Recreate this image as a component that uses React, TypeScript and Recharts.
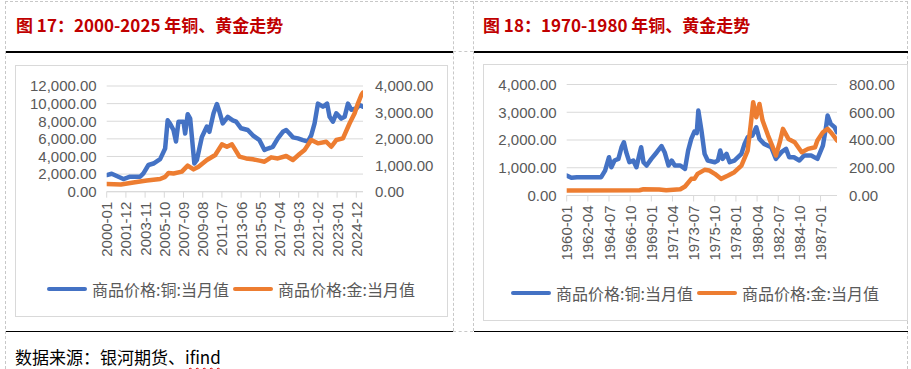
import React from 'react';
import { LineChart, Line, XAxis, YAxis, CartesianGrid, Legend } from 'recharts';

const FONT = '"Noto Sans CJK SC", "Noto Sans", sans-serif';
const NUM_FONT = '"Liberation Sans", Arial, sans-serif';
const TICK_COLOR = '#595959';
const GRID = '#D9D9D9';
const BLUE = '#4472C4';
const ORANGE = '#ED7D31';

// ---- Figure 17: 2000-2025 ----
const f17Title = '图 17：2000-2025 年铜、黄金走势';
const f17XTicks = ['2000-01', '2001-12', '2003-11', '2005-10', '2007-09', '2009-08', '2011-07', '2013-06', '2015-05', '2017-04', '2019-03', '2021-02', '2023-01', '2024-12'];
const f17LeftTicks = [0, 2000, 4000, 6000, 8000, 10000, 12000];
const f17RightTicks = [0, 1000, 2000, 3000, 4000];
const f17CopperDates = ['2000-01', '2000-07', '2001-09', '2002-05', '2003-05', '2003-09', '2004-03', '2004-09', '2005-05', '2005-11', '2006-02', '2006-05', '2006-09', '2006-12', '2007-03', '2007-09', '2007-11', '2008-02', '2008-05', '2008-10', '2009-01', '2009-07', '2010-01', '2010-04', '2010-09', '2011-01', '2011-04', '2011-08', '2012-02', '2012-08', '2012-12', '2013-06', '2014-02', '2014-08', '2015-04', '2015-10', '2016-02', '2016-08', '2017-02', '2017-08', '2017-12', '2018-04', '2018-08', '2019-02', '2019-08', '2020-02', '2020-06', '2020-10', '2021-02', '2021-08', '2022-01', '2022-04', '2022-08', '2022-12', '2023-06', '2023-10', '2024-02', '2024-06', '2024-12', '2025-04', '2025-08'];
const f17CopperValues = [1890, 2040, 1440, 1700, 1700, 2080, 3030, 3200, 3700, 4900, 8100, 7700, 7000, 5700, 7950, 7950, 6600, 8800, 8300, 3200, 3600, 6200, 7400, 6800, 8900, 9950, 9100, 7750, 8500, 8100, 7950, 7200, 7000, 6400, 5850, 4730, 4900, 5100, 6050, 6800, 7000, 6600, 6170, 6050, 5850, 5700, 6400, 7750, 10000, 9650, 10000, 8500, 7950, 8900, 8300, 8500, 10000, 9300, 9450, 9850, 9650];
const f17GoldDates = ['2000-01', '2001-06', '2002-09', '2004-01', '2005-05', '2005-11', '2006-03', '2006-09', '2007-07', '2008-02', '2008-09', '2009-03', '2010-01', '2010-11', '2011-07', '2012-01', '2012-07', '2012-10', '2013-04', '2013-12', '2014-08', '2015-04', '2015-10', '2016-06', '2017-02', '2017-12', '2018-08', '2019-04', '2019-10', '2020-06', '2021-02', '2021-12', '2022-06', '2022-12', '2023-08', '2024-04', '2024-10', '2025-02', '2025-06', '2025-08'];
const f17GoldValues = [290, 275, 350, 420, 480, 560, 710, 690, 760, 985, 845, 945, 1200, 1390, 1790, 1700, 1790, 1640, 1325, 1260, 1225, 1175, 1135, 1300, 1260, 1350, 1200, 1425, 1580, 1955, 1830, 1890, 1700, 1955, 2020, 2590, 2970, 3345, 3660, 3750];

// ---- Figure 18: 1960-1988 ----
const f18Title = '图 18：1970-1980 年铜、黄金走势';
const f18XTicks = ['1960-01', '1962-04', '1964-07', '1966-10', '1969-01', '1971-04', '1973-07', '1975-10', '1978-01', '1980-04', '1982-07', '1984-10', '1987-01'];
const f18LeftTicks = [0, 1000, 2000, 3000, 4000];
const f18RightTicks = [0, 200, 400, 600, 800];
const f18CopperDates = ['1960-01', '1960-07', '1961-02', '1963-09', '1964-02', '1964-07', '1964-10', '1965-02', '1965-07', '1965-11', '1966-02', '1966-05', '1966-09', '1967-02', '1967-06', '1967-10', '1967-12', '1968-03', '1968-07', '1969-01', '1969-08', '1970-02', '1970-06', '1970-11', '1971-03', '1971-07', '1972-02', '1972-08', '1972-12', '1973-04', '1973-08', '1973-11', '1974-01', '1974-05', '1974-09', '1975-01', '1975-10', '1976-02', '1976-05', '1976-08', '1977-01', '1977-05', '1977-11', '1978-08', '1978-12', '1979-04', '1979-10', '1980-03', '1980-07', '1981-01', '1981-10', '1982-04', '1982-11', '1983-05', '1983-09', '1984-03', '1984-10', '1985-04', '1986-01', '1986-09', '1987-04', '1987-08', '1987-10', '1988-02', '1988-07', '1988-10'];
const f18CopperValues = [720, 640, 660, 660, 900, 1380, 1020, 1260, 1320, 1740, 1920, 1560, 1200, 1260, 1020, 1500, 1740, 1200, 1080, 1320, 1560, 1780, 1560, 1080, 1260, 1080, 1080, 960, 1620, 2040, 2300, 2250, 3060, 2340, 1500, 1260, 1200, 1260, 1620, 1320, 1500, 1200, 1260, 1500, 1860, 2100, 2160, 2460, 2040, 1860, 1740, 1320, 1560, 1680, 1380, 1380, 1260, 1440, 1440, 1320, 1800, 2460, 2880, 2580, 2460, 2280];
const f18GoldDates = ['1960-01', '1967-10', '1968-03', '1969-11', '1970-08', '1972-02', '1972-08', '1973-04', '1973-08', '1973-12', '1974-09', '1975-03', '1975-10', '1976-06', '1977-03', '1977-11', '1978-08', '1979-04', '1979-08', '1979-11', '1980-03', '1980-07', '1980-11', '1981-06', '1981-12', '1982-04', '1982-09', '1983-01', '1983-08', '1984-04', '1985-01', '1985-09', '1986-06', '1986-09', '1987-04', '1987-10', '1988-02', '1988-07', '1988-10'];
const f18GoldValues = [36, 38, 45, 44, 38, 45, 65, 120, 120, 156, 185, 180, 156, 120, 144, 168, 216, 324, 516, 672, 564, 660, 540, 432, 348, 288, 384, 480, 408, 384, 312, 336, 348, 396, 456, 480, 456, 420, 396];

const seriesNames = ['商品价格:铜:当月值', '商品价格:金:当月值'];
const seriesColors = [BLUE, ORANGE];
const sourceText = '数据来源：银河期货、';

const monthIndex = (d: string, base: number) => {
  const [y, m] = d.split('-').map(Number);
  return (y - base) * 12 + (m - 1);
};
const toSeries = (dates: string[], values: number[], base: number) =>
  dates.map((d, i) => ({ m: monthIndex(d, base), v: values[i] }));

const fmt = (v: number) => v.toLocaleString('en-US', { minimumFractionDigits: 2, maximumFractionDigits: 2 });

const VTick = (props: any) => {
  const { x, y, payload, labelMap } = props;
  const label = labelMap[payload.value] ?? '';
  return (
    <text
      x={x}
      y={y}
      transform={`rotate(-90 ${x} ${y})`}
      textAnchor="end"
      dominantBaseline="central"
      fill={TICK_COLOR}
      fontSize={15}
      fontFamily={NUM_FONT}
    >
      {label}
    </text>
  );
};

const LegendContent = () => (
  <div style={{ display: 'flex', justifyContent: 'center', alignItems: 'center', fontFamily: FONT, fontSize: 16, color: TICK_COLOR, lineHeight: '22px' }}>
    {seriesNames.map((n, i) => (
      <div key={n} style={{ display: 'flex', alignItems: 'center', marginRight: i === 0 ? 4 : 0 }}>
        <span style={{ display: 'inline-block', width: 40, height: 4.5, borderRadius: 2.5, background: seriesColors[i], marginRight: 5 }} />
        <span style={{ whiteSpace: 'nowrap' }}>{n}</span>
      </div>
    ))}
  </div>
);

type ChartProps = {
  width: number;
  height: number;
  top: number;
  leftW: number;
  rightW: number;
  xH: number;
  base: number;
  maxM: number;
  xTicks: string[];
  leftTicks: number[];
  rightTicks: number[];
  copper: { m: number; v: number }[];
  gold: { m: number; v: number }[];
  legendTop: number;
};

const DualChart = (p: ChartProps) => {
  const tickIdx = p.xTicks.map((t) => monthIndex(t, p.base));
  const labelMap: Record<number, string> = {};
  p.xTicks.forEach((t, i) => (labelMap[tickIdx[i]] = t));
  const yTick = { fill: TICK_COLOR, fontSize: 15, fontFamily: NUM_FONT };
  return (
    <LineChart width={p.width} height={p.height} margin={{ top: p.top, right: 0, left: 0, bottom: 0 }}>
      <CartesianGrid yAxisId="left" vertical={false} stroke={GRID} strokeWidth={1} />
      <XAxis
        type="number"
        dataKey="m"
        domain={[0, p.maxM]}
        ticks={tickIdx}
        interval={0}
        height={p.xH}
        stroke={GRID}
        tickSize={6}
        tickMargin={4}
        tick={<VTick labelMap={labelMap} />}
        allowDataOverflow
      />
      <YAxis yAxisId="left" orientation="left" width={p.leftW} domain={[p.leftTicks[0], p.leftTicks[p.leftTicks.length - 1]]} ticks={p.leftTicks} interval={0} axisLine={false} tickLine={false} tickSize={0} tickMargin={10} tick={yTick} tickFormatter={fmt} />
      <YAxis yAxisId="right" orientation="right" width={p.rightW} domain={[p.rightTicks[0], p.rightTicks[p.rightTicks.length - 1]]} ticks={p.rightTicks} interval={0} axisLine={false} tickLine={false} tickSize={0} tickMargin={12} tick={yTick} tickFormatter={fmt} />
      <Line yAxisId="left" data={p.copper} dataKey="v" name={seriesNames[0]} type="linear" stroke={BLUE} strokeWidth={4.5} dot={false} strokeLinejoin="round" strokeLinecap="round" isAnimationActive={false} />
      <Line yAxisId="right" data={p.gold} dataKey="v" name={seriesNames[1]} type="linear" stroke={ORANGE} strokeWidth={4.5} dot={false} strokeLinejoin="round" strokeLinecap="round" isAnimationActive={false} />
      <Legend layout="horizontal" verticalAlign="middle" align="center" wrapperStyle={{ top: p.legendTop, left: 0, width: p.width }} content={<LegendContent />} />
    </LineChart>
  );
};

const abs = (s: React.CSSProperties): React.CSSProperties => ({ position: 'absolute', ...s });

export default function App() {
  const dash = '1px dashed #C8C8C8';
  const titleStyle: React.CSSProperties = { fontFamily: FONT, fontWeight: 700, fontSize: 17, color: '#C00000', lineHeight: '20px', whiteSpace: 'nowrap' };
  return (
    <div style={abs({ left: 0, top: 0, width: 911, height: 369, background: '#fff', overflow: 'hidden' })}>
      {/* table cell borders */}
      <div style={abs({ left: 5, top: 1, width: 903, height: 0, borderTop: dash })} />
      <div style={abs({ left: 5, top: 1, width: 0, height: 368, borderLeft: dash })} />
      <div style={abs({ left: 453, top: 1, width: 0, height: 330, borderLeft: dash })} />
      <div style={abs({ left: 473, top: 1, width: 0, height: 330, borderLeft: dash })} />
      <div style={abs({ left: 907, top: 1, width: 0, height: 368, borderLeft: dash })} />
      <div style={abs({ left: 453, top: 51, width: 20, height: 0, borderTop: dash })} />
      <div style={abs({ left: 453, top: 331, width: 20, height: 0, borderTop: dash })} />
      {/* black rules */}
      <div style={abs({ left: 6, top: 51, width: 447, height: 1.5, background: '#000' })} />
      <div style={abs({ left: 474, top: 51, width: 434, height: 1.5, background: '#000' })} />
      <div style={abs({ left: 6, top: 330.5, width: 447, height: 1.5, background: '#000' })} />
      <div style={abs({ left: 474, top: 330.5, width: 434, height: 1.5, background: '#000' })} />

      {/* titles */}
      <div style={abs({ left: 16, top: 15, ...titleStyle })}>{f17Title}</div>
      <div style={abs({ left: 483, top: 15, ...titleStyle })}>{f18Title}</div>

      {/* chart boxes */}
      <div style={abs({ left: 15, top: 65, width: 431, height: 250, border: '1px solid #D9D9D9' })} />
      <div style={abs({ left: 483, top: 64, width: 423, height: 255, border: '1px solid #D9D9D9' })} />

      <div style={abs({ left: 15, top: 65 })}>
        <DualChart
          width={432}
          height={251}
          top={21}
          leftW={91.7}
          rightW={84}
          xH={124.3}
          base={2000}
          maxM={307}
          xTicks={f17XTicks}
          leftTicks={f17LeftTicks}
          rightTicks={f17RightTicks}
          copper={toSeries(f17CopperDates, f17CopperValues, 2000)}
          gold={toSeries(f17GoldDates, f17GoldValues, 2000)}
          legendTop={213}
        />
      </div>
      <div style={abs({ left: 483, top: 64.5 })}>
        <DualChart
          width={424}
          height={256}
          top={19.5}
          leftW={83.7}
          rightW={70}
          xH={125.5}
          base={1960}
          maxM={345}
          xTicks={f18XTicks}
          leftTicks={f18LeftTicks}
          rightTicks={f18RightTicks}
          copper={toSeries(f18CopperDates, f18CopperValues, 1960)}
          gold={toSeries(f18GoldDates, f18GoldValues, 1960)}
          legendTop={217.5}
        />
      </div>

      {/* source */}
      <div style={abs({ left: 15, top: 346, fontFamily: FONT, fontSize: 17, color: '#000', lineHeight: '22px', whiteSpace: 'nowrap' })}>
        {sourceText}
        <span style={{ textDecoration: 'underline wavy #E00000', textDecorationThickness: 1, textUnderlineOffset: 3 }}>ifind</span>
      </div>
    </div>
  );
}
